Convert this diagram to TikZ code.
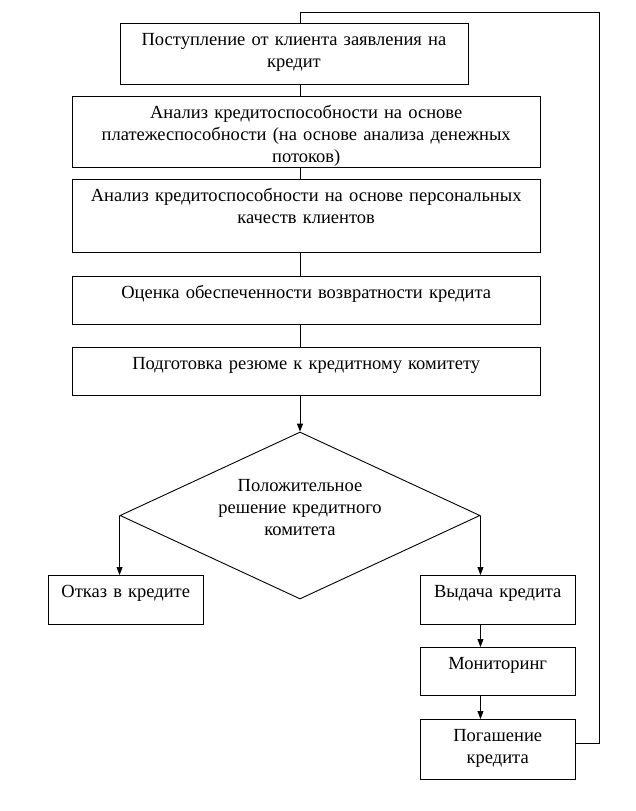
\documentclass[tikz,border=0pt]{standalone}
\usepackage{fontspec}
\setmainfont{Liberation Serif}
\usepackage{tikz}
\usetikzlibrary{arrows.meta,shapes.geometric}
\tikzset{
	box/.style={draw, line width=0.9pt, align=center, anchor=north west, inner sep=0pt, text height=22pt},
	rhomb/.style={draw, line width=0.9pt, diamond, inner sep=0pt, minimum width=360pt, minimum height=167pt},
	link/.style={line width=0.9pt},
	arr/.style={line width=0.9pt, -{Triangle[length=8pt,width=6pt]}}
}

\begin{document}
\begin{tikzpicture}[x=1pt, y=-1pt, font=\fontsize{18.5}{22}\selectfont]
		%%%%% START %%%%%
		\useasboundingbox (0, 0) rectangle (636, 811);
		
		\node[box, text width=348pt, text depth=39pt] (zayav) at (119.5, 23) {Поступление от клиента заявления на\\кредит};
		\node[box, text width=467.5pt, text depth=49pt] (platezh) at (72, 96) {Анализ кредитоспособности на основе\\платежеспособности (на основе анализа денежных\\потоков)};
		\node[box, text width=467.5pt, text depth=51pt] (person) at (72, 179) {Анализ кредитоспособности на основе персональных\\качеств клиентов};
		\node[box, text width=467.5pt, text depth=26pt] (obesp) at (72, 276) {Оценка обеспеченности возвратности кредита};
		\node[box, text width=467.5pt, text depth=26pt] (rezume) at (72, 347) {Подготовка резюме к кредитному комитету};
		
		\node[rhomb] (reshenie) at (300, 515.5) {};
		\node[box, draw=none, anchor=north, text width=240pt, text depth=50pt] (vopros) at (300, 469) {Положительное\\решение кредитного\\комитета};
		
		\node[box, text width=155.5pt, text depth=27pt] (otkaz) at (47.5, 575) {Отказ в кредите};
		\node[box, text width=155.5pt, text depth=27pt] (vydacha) at (419.5, 575) {Выдача кредита};
		\node[box, text width=155.5pt, text depth=26pt] (monitor) at (419.5, 647) {Мониторинг};
		\node[box, text width=155.5pt, text depth=38pt] (pogash) at (419.5, 719) {Погашение\\кредита};
		
		% chain down the middle
		\draw[link] (zayav.south -| reshenie.north) -- (platezh.north -| reshenie.north);
		\draw[link] (platezh.south -| reshenie.north) -- (person.north -| reshenie.north);
		\draw[link] (person.south -| reshenie.north) -- (obesp.north -| reshenie.north);
		\draw[link] (obesp.south -| reshenie.north) -- (rezume.north -| reshenie.north);
		\draw[arr] (rezume.south -| reshenie.north) -- (reshenie.north);
		
		% branches
		\draw[arr] (reshenie.west) -- (reshenie.west |- otkaz.north);
		\draw[arr] (reshenie.east) -- (reshenie.east |- vydacha.north);
		\draw[arr] (vydacha.south -| reshenie.east) -- (monitor.north -| reshenie.east);
		\draw[arr] (monitor.south -| reshenie.east) -- (pogash.north -| reshenie.east);
		
		% back to the start
		\coordinate (vozvrat) at (599, 12);
		\coordinate (vyhod) at ([yshift=6pt]pogash.east);
		\draw[link] (vyhod) -| (vozvrat) -| (zayav.north -| reshenie.north);
		
		%%%%% END %%%%%
	\end{tikzpicture}
\end{document}
